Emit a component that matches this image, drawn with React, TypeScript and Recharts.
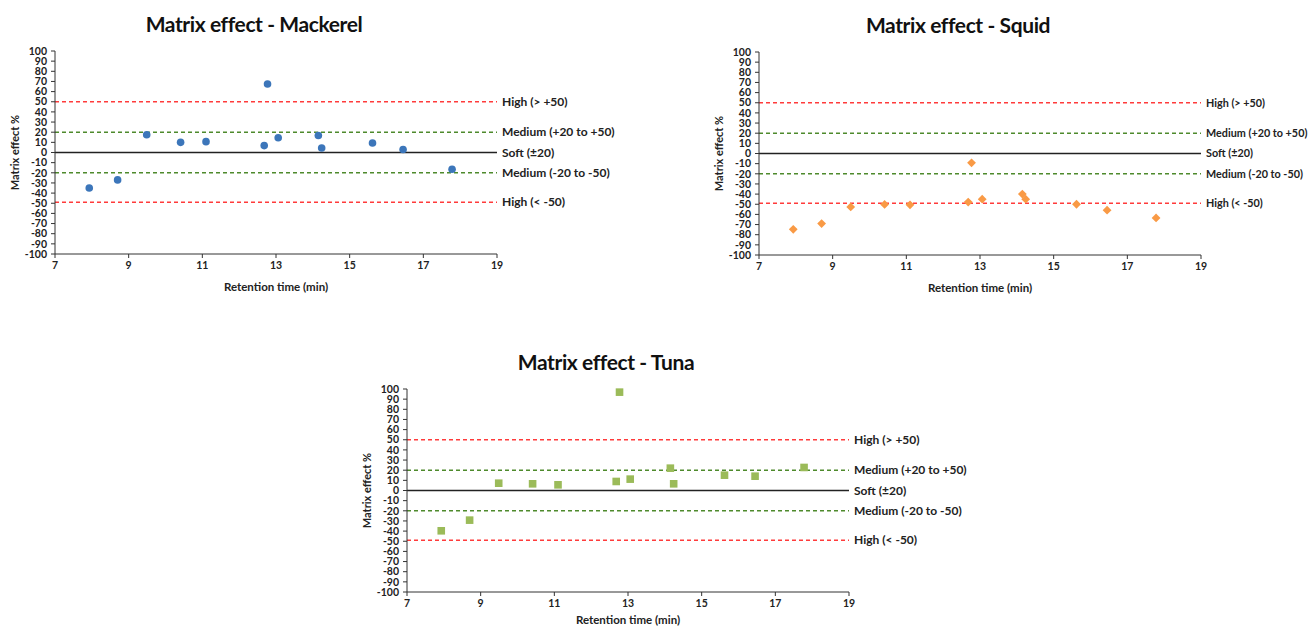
import { ScatterChart, Scatter, XAxis, YAxis, ReferenceLine } from "recharts";

// retention time (min) of the 13 compounds, shared by all three matrices
const retentionTime = [7.93, 8.7, 9.49, 10.41, 11.1, 12.68, 12.77, 13.06, 14.15, 14.24, 15.62, 16.45, 17.78];

const mackerelEffect = [-35, -27, 17.5, 10, 10.7, 6.8, 67.5, 14.6, 16.8, 4.5, 9.4, 2.9, -16.5];
const squidEffect = [-74.7, -69, -52.6, -50.2, -50.6, -47.9, -9.2, -45, -40, -45, -50, -55.8, -63.5];
const tunaEffect = [-39.7, -29.2, 7.2, 6.6, 5.6, 8.9, 96.9, 11.2, 22, 6.6, 15.1, 14.1, 22.7];

const thresholdValues = [50, 20, 0, -20, -49];
const thresholdLabels = ["High (> +50)", "Medium (+20 to +50)", "Soft (±20)", "Medium (-20 to -50)", "High (< -50)"];
const thresholdColors = ["#ff3b3b", "#4e8a2c", "#222222", "#4e8a2c", "#ff3b3b"];

const xTicks = [7, 9, 11, 13, 15, 17, 19];
const yTicks = [100, 90, 80, 70, 60, 50, 40, 30, 20, 10, 0, -10, -20, -30, -40, -50, -60, -70, -80, -90, -100];

// plot area is 442 x 203, the rest is room for axes and the threshold labels
const W = 660;
const H = 300;
const tickStyle = { fontSize: 10.5, fill: "#222", fontWeight: 700 };

const circle = (color: string) => (props: any) =>
  <circle cx={props.cx} cy={props.cy} r={3.8} fill={color} />;

const square = (color: string) => (props: any) =>
  <rect x={props.cx - 3.8} y={props.cy - 3.8} width={7.6} height={7.6} fill={color} />;

const diamond = (color: string) => (props: any) => {
  const { cx, cy } = props;
  const d = 4.4;
  return <polygon points={`${cx},${cy - d} ${cx + d},${cy} ${cx},${cy + d} ${cx - d},${cy}`} fill={color} />;
};

type Props = {
  title: string;
  values: number[];
  left: number;
  top: number;
  shape: (props: any) => any;
  color: string;
  xLabelOffset: number;
  labelSize: number;
};

const MatrixChart = ({ title, values, left, top, shape, color, xLabelOffset, labelSize }: Props) => {
  const data = retentionTime.map((x, i) => ({ x, y: values[i] }));
  return (
    <div style={{ position: "absolute", left, top, width: W, height: H }}>
      <div
        style={{
          position: "absolute",
          left: 254,
          top: 10,
          transform: "translateX(-50%)",
          fontSize: 21,
          fontWeight: 700,
          lineHeight: "28px",
          whiteSpace: "nowrap",
          letterSpacing: -0.4,
          color: "#111",
        }}
      >
        {title}
      </div>
      <ScatterChart width={W} height={H} margin={{ top: 51, right: W - 497, left: 5, bottom: 6 }}>
        <XAxis
          type="number"
          dataKey="x"
          domain={[7, 19]}
          ticks={xTicks}
          interval={0}
          height={40}
          tickSize={4}
          tickMargin={4}
          tick={tickStyle}
          axisLine={{ stroke: "#333" }}
          tickLine={{ stroke: "#333" }}
          label={{ value: "Retention time (min)", position: "insideBottom", offset: xLabelOffset, fontSize: 11.5, fontWeight: 700, fill: "#222" }}
        />
        <YAxis
          type="number"
          dataKey="y"
          domain={[-100, 100]}
          ticks={yTicks}
          interval={0}
          width={50}
          tickSize={4}
          tickMargin={4}
          tick={tickStyle}
          axisLine={{ stroke: "#333" }}
          tickLine={{ stroke: "#333" }}
          label={{
            value: "Matrix effect %",
            angle: -90,
            position: "insideLeft",
            offset: 10,
            fontSize: 11,
            fontWeight: 700,
            fill: "#222",
            style: { textAnchor: "middle" },
          }}
        />
        {thresholdValues.map((v, i) => (
          <ReferenceLine
            key={v}
            y={v}
            stroke={thresholdColors[i]}
            strokeWidth={v === 0 ? 1.4 : 1.5}
            strokeDasharray={v === 0 ? undefined : "4 3"}
            label={{ value: thresholdLabels[i], position: "right", offset: 5, fontSize: labelSize, fontWeight: 700, fill: "#222" }}
          />
        ))}
        <Scatter data={data} dataKey="y" fill={color} shape={shape} isAnimationActive={false} />
      </ScatterChart>
    </div>
  );
};

const App = () => {
  return (
    <div
      style={{
        position: "absolute",
        left: 0,
        top: 0,
        width: 1310,
        height: 628,
        overflow: "hidden",
        background: "#fff",
        fontFamily: "Lato, 'Open Sans', sans-serif",
      }}
    >
      <MatrixChart title="Matrix effect - Mackerel" values={mackerelEffect} left={0} top={0} shape={circle("#3c76ba")} color="#3c76ba" xLabelOffset={3} labelSize={12} />
      <MatrixChart title="Matrix effect - Squid" values={squidEffect} left={704} top={1} shape={diamond("#f99a45")} color="#f99a45" xLabelOffset={3} labelSize={10.8} />
      <MatrixChart title="Matrix effect - Tuna" values={tunaEffect} left={352} top={338} shape={square("#9bbb59")} color="#9bbb59" xLabelOffset={8} labelSize={12} />
    </div>
  );
};

export default App;
